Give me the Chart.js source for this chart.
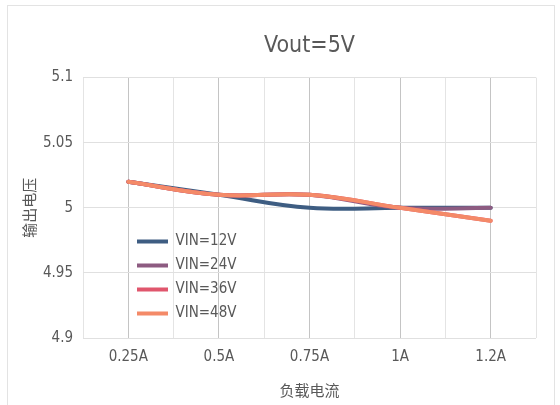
<!DOCTYPE html>
<html>
<head>
<meta charset="utf-8">
<script src="https://cdn.jsdelivr.net/npm/chart.js@4.4.1/dist/chart.umd.min.js"></script>
<style>
  html, body { margin: 0; padding: 0; background: #fff; }
  #wrap { position: relative; width: 560px; height: 405px; overflow: hidden; }
  #frame { position: absolute; left: 7px; top: 5px; width: 546px; height: 420px; border: 1px solid #e3e3e3; }
  canvas { position: absolute; left: 0; top: 0; }
</style>
</head>
<body>
<div id="wrap">
  <div id="frame"></div>
  <canvas id="chart" width="560" height="405"></canvas>
</div>
<script>
const loads = ["0.25A", "0.5A", "0.75A", "1A", "1.2A"];
const vin12 = [5.02, 5.01, 5.00, 5.00, 5.00];
const vin24 = [5.02, 5.01, 5.01, 5.00, 5.00];
const vin36 = [5.02, 5.01, 5.01, 5.00, 4.99];
const vin48 = [5.02, 5.01, 5.01, 5.00, 4.99];
const yTicks = [4.9, 4.95, 5, 5.05, 5.1];

const FONT = "'DejaVu Sans Condensed', 'Noto Sans CJK SC', sans-serif";
const TXT = "#595959";

// later series sit on top, as in the original
function series(label, data, color, order) {
  return {
    label: label,
    data: data,
    order: order,
    borderColor: color,
    backgroundColor: color,
    borderWidth: 4,
    pointRadius: 0,
    tension: 0.4,
    borderCapStyle: "round"
  };
}

// move the legend into the plot, lower left like the original
const legendInside = {
  id: "legendInside",
  afterLayout(chart) {
    const lg = chart.legend;
    const w = lg.width, h = lg.height;
    lg.left = chart.chartArea.left + 45;
    lg.top = 225;
    lg.right = lg.left + w;
    lg.bottom = lg.top + h;
    if (lg.adjustHitBoxes) lg.adjustHitBoxes();
  }
};

new Chart(document.getElementById("chart"), {
  type: "line",
  data: {
    labels: loads,
    datasets: [
      series("VIN=12V", vin12, "#3e5d82", 3),
      series("VIN=24V", vin24, "#8d5b81", 2),
      series("VIN=36V", vin36, "#e0566d", 1),
      series("VIN=48V", vin48, "#f48a68", 0)
    ]
  },
  options: {
    responsive: false,
    animation: false,
    layout: { padding: { left: 22, right: 24, top: 8, bottom: 4 } },
    plugins: {
      title: {
        display: true,
        fullSize: false,
        text: "Vout=5V",
        color: TXT,
        font: { family: FONT, size: 23, weight: "normal" },
        padding: { top: 24, bottom: 18 }
      },
      legend: {
        position: "chartArea",
        align: "start",
        labels: {
          color: TXT,
          font: { family: FONT, size: 15 },
          boxWidth: 31,
          boxHeight: 4,
          padding: 9,
          sort: (a, b) => a.datasetIndex - b.datasetIndex,
          generateLabels(chart) {
            const items = Chart.defaults.plugins.legend.labels.generateLabels(chart);
            items.forEach(it => { it.lineWidth = 0; });
            return items;
          }
        }
      },
      tooltip: { enabled: false }
    },
    scales: {
      x: {
        offset: true,
        grid: { offset: false, color: "#c4c4c4", drawTicks: false },
        border: { display: false },
        ticks: { color: TXT, font: { family: FONT, size: 15 }, padding: 10 },
        title: {
          display: true,
          text: "负载电流",
          color: TXT,
          font: { family: FONT, size: 15 },
          padding: { top: 3, bottom: 0 }
        },
        afterFit(s) { s.height = 63; }
      },
      x2: {
        type: "category",
        labels: loads,
        position: "bottom",
        offset: true,
        grid: { offset: true, color: "#e4e4e4", drawTicks: false },
        border: { display: false },
        ticks: { display: false },
        afterFit(s) { s.height = 0; }
      },
      y: {
        min: 4.9,
        max: 5.1,
        afterBuildTicks(s) { s.ticks = yTicks.map(v => ({ value: v })); },
        grid: { color: "#e0e0e0", drawTicks: false },
        border: { display: false },
        ticks: {
          color: TXT,
          font: { family: FONT, size: 15 },
          padding: 10,
          callback: v => String(v)
        },
        title: {
          display: true,
          text: "输出电压",
          color: TXT,
          font: { family: FONT, size: 15 },
          padding: { top: 0, bottom: 4 }
        },
        afterFit(s) { s.width = 61; }
      }
    }
  },
  plugins: [legendInside]
});
</script>
</body>
</html>
